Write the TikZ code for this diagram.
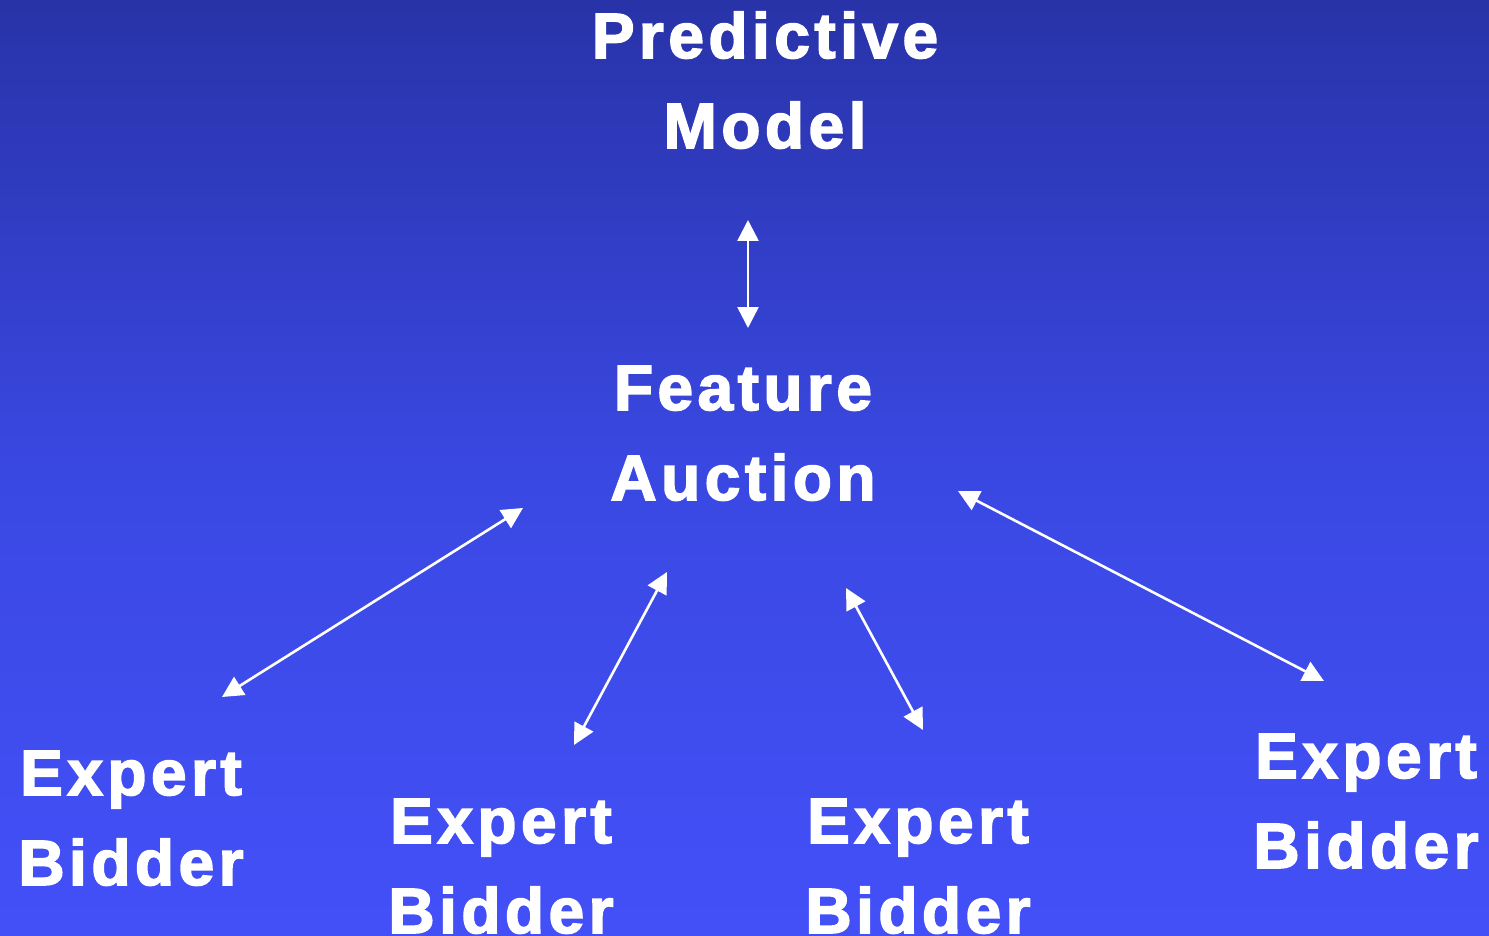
\documentclass[tikz,border=0pt]{standalone}
\usepackage{fontspec}
\setmainfont{Liberation Sans}[LetterSpace=7,FakeBold=2.5]
\usetikzlibrary{arrows.meta}
\definecolor{bgtop}{RGB}{40,51,168}
\definecolor{bgmid}{RGB}{58,72,226}
\definecolor{bgbot}{RGB}{67,80,248}
\tikzset{
  lbl/.style={text=white, font=\fontsize{64}{90}\selectfont\bfseries, align=center, inner sep=0pt, anchor=base},
  dbl/.style={draw=white, line width=2.6pt, {Triangle[length=21pt,width=21pt]}-{Triangle[length=21pt,width=21pt]}}
}
\begin{document}
\begin{tikzpicture}[x=1pt,y=-1pt]
\shade[top color=bgtop, bottom color=bgbot, middle color=bgmid] (0,0) rectangle (1489,936);
\useasboundingbox (0,0) rectangle (1489,936);
\node[lbl] (pm) at (765,148) {Predictive\\Model};
\node[lbl] (fa) at (743,500) {Feature\\Auction};
\node[lbl] (e1) at (131,885) {Expert\\Bidder};
\node[lbl] (e2) at (501,933) {Expert\\Bidder};
\node[lbl] (e3) at (918,933) {Expert\\Bidder};
\node[lbl] (e4) at (1366,868) {Expert\\Bidder};
\coordinate (a1s) at (748,220); \coordinate (a1e) at (748,328);
\coordinate (a2s) at (222,697); \coordinate (a2e) at (523,508);
\coordinate (a3s) at (574,745); \coordinate (a3e) at (667,572);
\coordinate (a4s) at (923,730); \coordinate (a4e) at (846,588);
\coordinate (a5s) at (1324,681); \coordinate (a5e) at (958,491);
\draw[dbl] (a1s) -- (a1e);
\draw[dbl] (a2s) -- (a2e);
\draw[dbl] (a3s) -- (a3e);
\draw[dbl] (a4s) -- (a4e);
\draw[dbl] (a5s) -- (a5e);
\end{tikzpicture}
\end{document}
